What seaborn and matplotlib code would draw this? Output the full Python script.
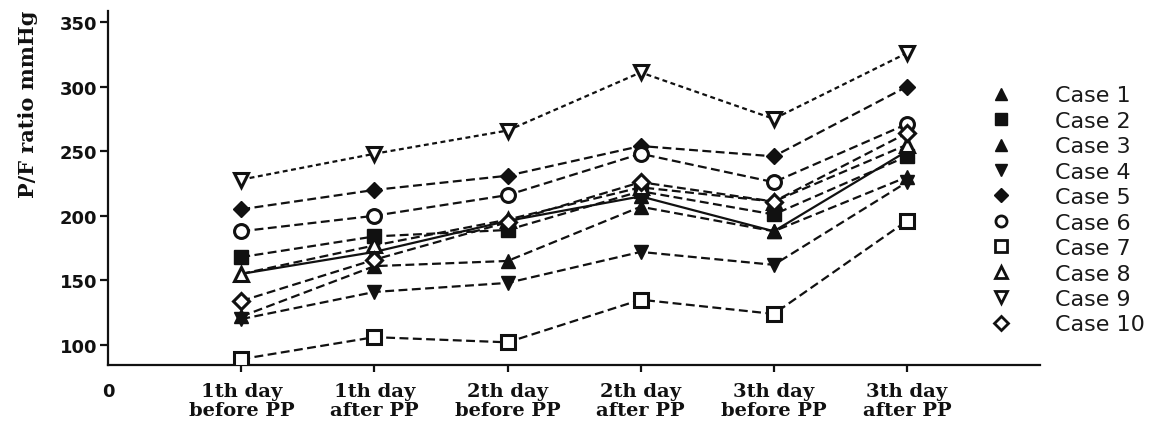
import matplotlib
matplotlib.use("Agg")
import matplotlib.pyplot as plt
from matplotlib.lines import Line2D
import pandas as pd
import seaborn as sns

# Sampling times (x axis categories)
timepoints = [
    "1th day\nbefore PP", "1th day\nafter PP",
    "2th day\nbefore PP", "2th day\nafter PP",
    "3th day\nbefore PP", "3th day\nafter PP",
]
case_names = ["Case 1", "Case 2", "Case 3", "Case 4", "Case 5",
              "Case 6", "Case 7", "Case 8", "Case 9", "Case 10"]

# P/F ratio (mmHg) per case at each time point
case1 = [155, 172, 196, 215, 188, 250]
case2 = [168, 184, 189, 219, 201, 246]
case3 = [122, 161, 165, 207, 188, 230]
case4 = [120, 141, 148, 172, 162, 226]
case5 = [205, 220, 231, 254, 246, 300]
case6 = [188, 200, 216, 248, 226, 271]
case7 = [89, 106, 102, 135, 124, 196]
case8 = [155, 177, 197, 222, 211, 255]
case9 = [228, 248, 266, 311, 275, 326]
case10 = [134, 166, 195, 226, 211, 264]
values = [case1, case2, case3, case4, case5, case6, case7, case8, case9, case10]

rows = []
for name, vals in zip(case_names, values):
    for i, v in enumerate(vals):
        rows.append({"case": name, "pos": i + 1, "pf": v})
df = pd.DataFrame(rows)

DASH = (0, (4, 2))
DOT = (0, (2.2, 1.6))
styles = {
    "Case 1": dict(marker="^", filled=True, ls="-"),
    "Case 2": dict(marker="s", filled=True, ls=DASH),
    "Case 3": dict(marker="^", filled=True, ls=DASH),
    "Case 4": dict(marker="v", filled=True, ls=DASH),
    "Case 5": dict(marker="D", filled=True, ls=DASH),
    "Case 6": dict(marker="o", filled=False, ls=DASH),
    "Case 7": dict(marker="s", filled=False, ls=DASH),
    "Case 8": dict(marker="^", filled=False, ls=DASH),
    "Case 9": dict(marker="v", filled=False, ls=DOT),
    "Case 10": dict(marker="D", filled=False, ls=DASH),
}
msizes = {"o": 10, "s": 9.5, "^": 10, "v": 10, "D": 8}

sns.set_theme(style="ticks")
plt.rcParams["font.family"] = ["DejaVu Sans"]

fig = plt.figure(figsize=(11.51, 4.31), dpi=100)
ax = fig.add_axes([0.094, 0.151, 0.8096, 0.821])

ink = "#111111"
for name in case_names:
    st = styles[name]
    sub = df[df["case"] == name]
    sns.lineplot(
        data=sub, x="pos", y="pf", ax=ax, color=ink, linewidth=1.6,
        linestyle=st["ls"], marker=st["marker"],
        markersize=msizes[st["marker"]],
        markerfacecolor=ink if st["filled"] else "white",
        markeredgecolor=ink, markeredgewidth=2.2 if not st["filled"] else 1.0,
        legend=False, zorder=3,
    )

ax.set_xlim(0, 7)
ax.set_ylim(84.5, 358.5)
ax.set_yticks([100, 150, 200, 250, 300, 350])
ax.set_xticks(range(0, 7))
ax.set_xticklabels(["0"] + timepoints)

for lbl in ax.get_yticklabels():
    lbl.set_fontfamily("DejaVu Sans")
    lbl.set_fontweight("bold")
    lbl.set_fontsize(13)
for i, lbl in enumerate(ax.get_xticklabels()):
    if i == 0:
        lbl.set_fontfamily("DejaVu Sans")
        lbl.set_fontsize(13)
    else:
        lbl.set_fontfamily("DejaVu Serif")
        lbl.set_fontsize(14)
        lbl.set_linespacing(1.1)
    lbl.set_fontweight("bold")
    lbl.set_color(ink)

ax.set_xlabel("")
ax.set_ylabel("P/F ratio mmHg", fontfamily="DejaVu Serif", fontweight="bold",
              fontsize=15, color=ink, labelpad=4)
ax.yaxis.set_label_coords(-0.075, 0.74)

sns.despine(ax=ax)
for sp in ("left", "bottom"):
    ax.spines[sp].set_linewidth(1.6)
    ax.spines[sp].set_color(ink)
ax.tick_params(axis="y", length=6, width=1.6, colors=ink, pad=2)
ax.tick_params(axis="x", length=5, width=1.6, colors=ink, pad=7)
ax.xaxis.get_major_ticks()[0].tick1line.set_visible(False)
ax.grid(False)

handles = []
for name in case_names:
    st = styles[name]
    handles.append(Line2D([], [], linestyle="none", marker=st["marker"],
                          markersize=8 if st["marker"] != "D" else 7,
                          markerfacecolor=ink if st["filled"] else "white",
                          markeredgecolor=ink,
                          markeredgewidth=2.0 if not st["filled"] else 1.0))
leg = ax.legend(handles, case_names, loc="upper left",
                bbox_to_anchor=(0.937, 0.815), frameon=False,
                fontsize=16, labelspacing=0.245, handletextpad=1.9,
                handlelength=1.0, borderaxespad=0)
for t in leg.get_texts():
    t.set_color("#1a1a1a")

fig.savefig("out.png", dpi=100)
